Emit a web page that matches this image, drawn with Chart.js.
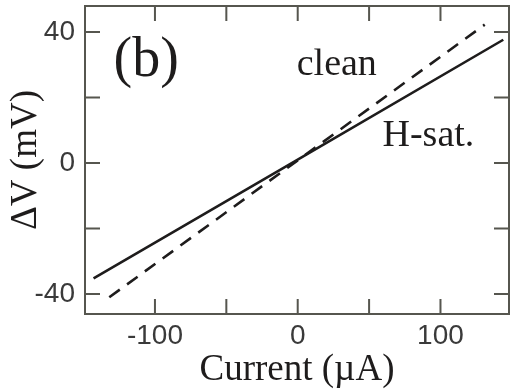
<!DOCTYPE html>
<html>
<head>
<meta charset="utf-8">
<script src="https://cdn.jsdelivr.net/npm/chart.js@4.4.1/dist/chart.umd.min.js"></script>
<style>
  html, body { margin: 0; padding: 0; background: #fff; }
  #wrap { width: 510px; height: 392px; }
</style>
</head>
<body>
<div id="wrap"><canvas id="chart" width="510" height="392"></canvas></div>
<script>
// values
const currentHsat = [-143, 0, 144]
const dvHsat = [-35.2, 1.0, 37.6]
const currentClean = [-132, 0, 131]
const dvClean = [-41.0, 0.8, 42.2]

const xTickValues = [-100, -50, 0, 50, 100]
const xTickLabels = ["-100", "", "0", "", "100"]
const yTickValues = [-40, -20, 0, 20, 40]
const yTickLabels = ["-40", "", "0", "", "40"]

const axisColor = "#56564f"
const inkColor = "#1e1c1c"

// text labels placed in data coordinates
const notes = [
  { text: "(b)", x: -129, y: 26.6, size: 56 },
  { text: "clean", x: -0.7, y: 26.9, size: 38 },
  { text: "H-sat.", x: 59.4, y: 5.2, size: 38 }
]

const frameAndTicks = {
  id: "frameAndTicks",
  afterDraw(chart) {
    const {ctx, chartArea: a, scales: {x, y}} = chart
    const len = 15
    ctx.save()
    ctx.strokeStyle = axisColor
    ctx.lineWidth = 2
    ctx.beginPath()
    x.ticks.forEach(t => {
      const px = x.getPixelForValue(t.value)
      ctx.moveTo(px, a.bottom); ctx.lineTo(px, a.bottom - len)
      ctx.moveTo(px, a.top); ctx.lineTo(px, a.top + len)
    })
    y.ticks.forEach(t => {
      const py = y.getPixelForValue(t.value)
      ctx.moveTo(a.left, py); ctx.lineTo(a.left + len, py)
      ctx.moveTo(a.right, py); ctx.lineTo(a.right - len, py)
    })
    ctx.stroke()
    ctx.strokeRect(a.left, a.top, a.right - a.left, a.bottom - a.top)

    ctx.fillStyle = inkColor
    ctx.textAlign = "left"
    ctx.textBaseline = "alphabetic"
    notes.forEach(n => {
      ctx.font = n.size + "px 'Liberation Serif', 'Times New Roman', serif"
      ctx.fillText(n.text, x.getPixelForValue(n.x), y.getPixelForValue(n.y))
    })
    ctx.restore()
  }
}

const ctx = document.getElementById("chart").getContext("2d")

new Chart(ctx, {
  type: "scatter",
  data: {
    datasets: [
      {
        label: "H-sat.",
        data: currentHsat.map((v, i) => ({x: v, y: dvHsat[i]})),
        showLine: true,
        borderColor: inkColor,
        borderWidth: 2.6,
        pointRadius: 0
      },
      {
        label: "clean",
        data: currentClean.map((v, i) => ({x: v, y: dvClean[i]})),
        showLine: true,
        borderColor: inkColor,
        borderWidth: 2.6,
        borderDash: [13, 9],
        pointRadius: 0
      }
    ]
  },
  options: {
    responsive: false,
    animation: false,
    layout: { padding: { top: 6, right: 1, left: 0, bottom: 0 } },
    plugins: { legend: { display: false }, tooltip: { enabled: false } },
    scales: {
      x: {
        type: "linear",
        min: -149,
        max: 148,
        afterBuildTicks: s => { s.ticks = xTickValues.map(v => ({value: v})) },
        afterFit: s => { s.height = 78; s.paddingLeft = 0; s.paddingRight = 0 },
        grid: { display: false, drawTicks: false },
        border: { display: false },
        ticks: {
          padding: 5,
          maxRotation: 0,
          autoSkip: false,
          color: "#3a3a3a",
          font: { family: "'Liberation Sans', Arial, sans-serif", size: 28 },
          callback: (v, i) => xTickLabels[i]
        },
        title: {
          display: true,
          text: "Current (µA)",
          color: inkColor,
          padding: 0,
          font: { family: "'Liberation Serif', 'Times New Roman', serif", size: 37 }
        }
      },
      y: {
        type: "linear",
        min: -46.1,
        max: 47.9,
        afterBuildTicks: s => { s.ticks = yTickValues.map(v => ({value: v})) },
        afterFit: s => { s.width = 85; s.paddingTop = 0; s.paddingBottom = 0 },
        grid: { display: false, drawTicks: false },
        border: { display: false },
        ticks: {
          padding: 10,
          autoSkip: false,
          color: "#3a3a3a",
          font: { family: "'Liberation Sans', Arial, sans-serif", size: 28 },
          callback: (v, i) => yTickLabels[i]
        },
        title: {
          display: true,
          text: "ΔV (mV)",
          color: inkColor,
          padding: { top: 4, bottom: 0 },
          font: { family: "'Liberation Serif', 'Times New Roman', serif", size: 37 }
        }
      }
    }
  },
  plugins: [frameAndTicks]
})
</script>
</body>
</html>
